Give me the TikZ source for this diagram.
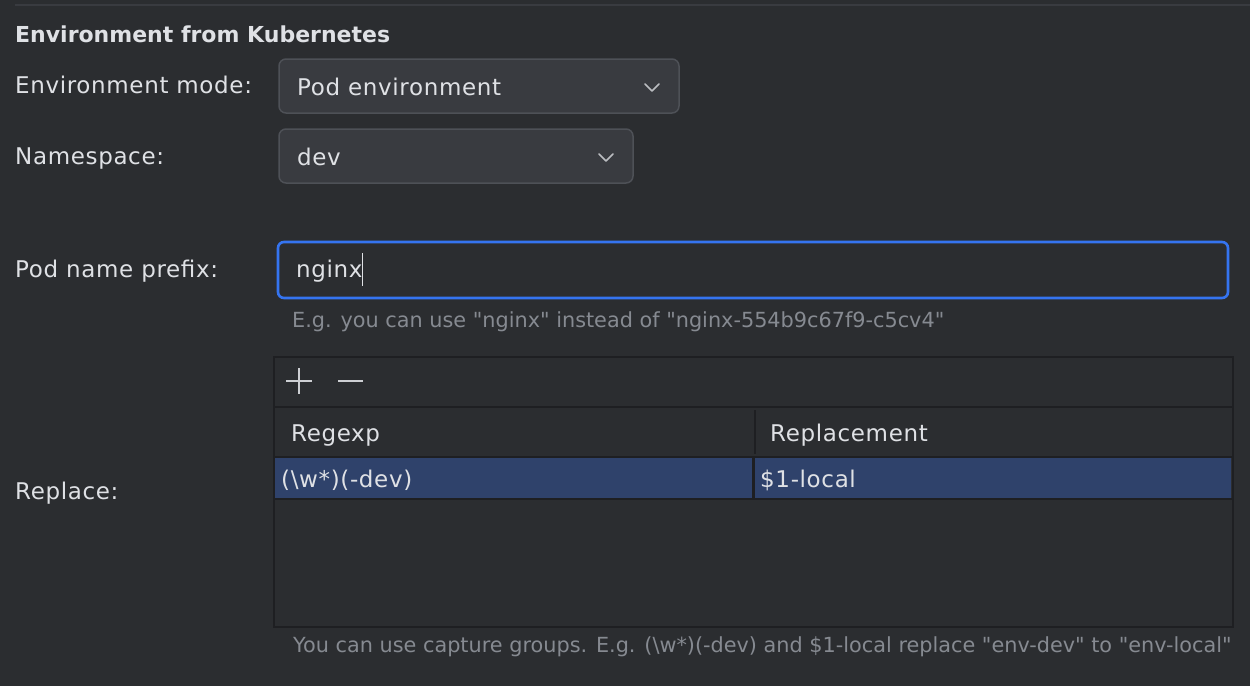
\documentclass[tikz,border=0pt]{standalone}
\usepackage{fontspec}
\setmainfont{DejaVu Sans}
\newfontfamily\uifont{DejaVu Sans}[LetterSpace=2.8]
\definecolor{bg}{HTML}{2B2D30}
\definecolor{fg}{HTML}{DFE1E5}
\definecolor{hint}{HTML}{868A91}
\definecolor{combofill}{HTML}{393B40}
\definecolor{comboline}{HTML}{4E5157}
\definecolor{focus}{HTML}{3574F0}
\definecolor{sel}{HTML}{2F426B}
\definecolor{tline}{HTML}{1E1F22}
\definecolor{sep}{HTML}{393B40}
\newcommand{\q}{\textquotedbl}
\tikzset{
  lbl/.style={anchor=base west, inner sep=0pt, text=fg, font=\uifont\fontsize{23}{27}\selectfont},
  ttl/.style={anchor=base west, inner sep=0pt, text=fg, font=\fontsize{22}{26}\selectfont\bfseries},
  hnt/.style={anchor=base west, inner sep=0pt, text=hint, font=\fontsize{20.8}{24}\selectfont},
  combo/.style={draw=comboline, fill=combofill, line width=1.5pt, rounded corners=7pt},
  chev/.style={draw=fg!80!bg, line width=1.6pt, line cap=round, line join=round},
  icon/.style={draw=fg!90!bg, line width=2pt},
  grid/.style={draw=tline, line width=2pt},
}
\begin{document}
\begin{tikzpicture}[x=1pt,y=-1pt]
\fill[bg] (0,0) rectangle (1250,686);
\useasboundingbox (0,0) rectangle (1250,686);
% top separator
\draw[sep, line width=2pt] (15,5) -- (1250,5);
\node[ttl] (title) at (15,42) {Environment from Kubernetes};
% environment mode
\node[lbl] (lmode) at (15,93) {Environment mode:};
\draw[combo] (279,59) rectangle (679,113);
\node[lbl] (vmode) at (297,95) {Pod environment};
\draw[chev] (645,84) -- (652,91) -- (659,84);
% namespace
\node[lbl] (lns) at (15,164) {Namespace:};
\draw[combo] (279,129) rectangle (633,183);
\node[lbl] (vns) at (297,165) {dev};
\draw[chev] (599,154) -- (606,161) -- (613,154);
% pod name prefix
\node[lbl] (lpod) at (15,277) {Pod name prefix:};
\draw[draw=focus, line width=2.6pt, rounded corners=6pt] (278,242) rectangle (1228,298);
\node[lbl] (vpod) at (296,277) {nginx};
\draw[fg, line width=1.2pt] (vpod.east |- 0,253) -- ++(0,33);
\node[hnt] (hpod) at (292,327) {E.g. you can use \q nginx\q{} instead of \q nginx-554b9c67f9-c5cv4\q};
% replace table
\node[lbl] (lrep) at (15,499) {Replace:};
\draw[grid] (274,357) rectangle (1233,627);
\draw[icon] (299,368) -- (299,394) (286,381) -- (312,381);
\draw[icon] (338,381) -- (363,381);
\draw[grid] (274,407) -- (1233,407);
\draw[grid] (274,457) -- (1233,457);
\draw[grid] (755,410) -- (755,454);
\node[lbl] (hre) at (291,441) {Regexp};
\node[lbl] (hrp) at (770,441) {Replacement};
\fill[sel] (275,458) rectangle (1231,498);
\draw[tline, line width=3pt] (753,458) -- (753,498);
\draw[grid] (274,499) -- (1233,499);
\node[lbl] (cre) at (281,487) {(\textbackslash w*)(-dev)};
\node[lbl] (crp) at (760,487) {\$1-local};
\node[hnt] (hrep) at (293,652) {You can use capture groups. E.g. (\textbackslash w*)(-dev) and \$1-local replace \q env-dev\q{} to \q env-local\q};
\end{tikzpicture}
\end{document}
